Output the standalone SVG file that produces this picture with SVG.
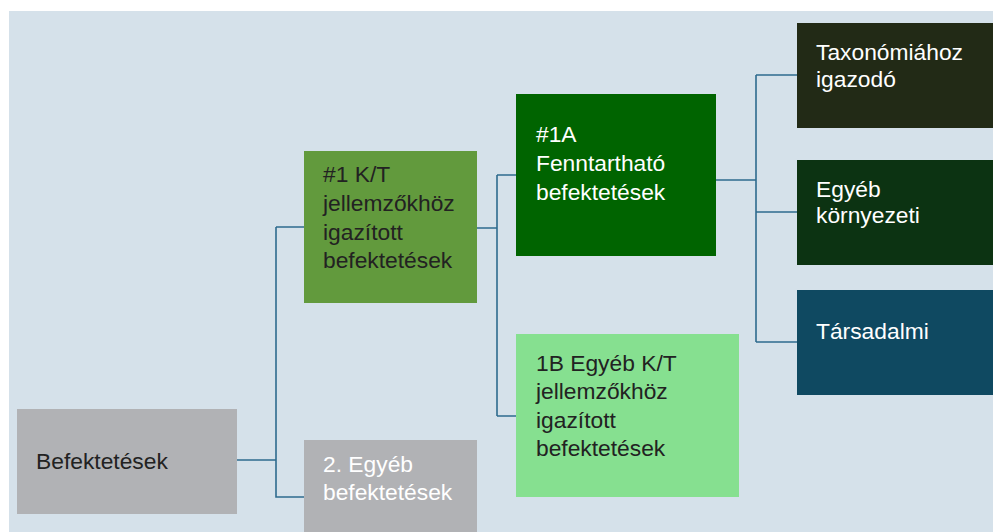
<svg xmlns="http://www.w3.org/2000/svg" width="993" height="532" viewBox="0 0 993 532">
<style>
text{font-family:"Liberation Sans",Arial,sans-serif;font-size:22.8px}
.w{fill:#ffffff}.d{fill:#222222}
.c{fill:none;stroke:#2e6b8e;stroke-width:1.6}
</style>
<rect x="0" y="0" width="993" height="532" fill="#ffffff"/>
<rect x="9" y="11" width="984" height="521" fill="#d5e1ea"/>
<g id="connectors">
<path class="c" d="M237,460 H276 M276,227 V497 H304 M276,227 H304"/>
<path class="c" d="M477,228 H497 M497,175 V416 M497,175 H516 M497,416 H516"/>
<path class="c" d="M716,180 H756 M756,75 V342 M756,75 H797 M756,212 H797 M756,342 H797"/>
</g>
<g id="n-befektetesek">
<rect x="17" y="409" width="220" height="105" fill="#b1b2b5"/>
<text class="d" x="36" y="469">Befektetések</text>
</g>
<g id="n-egyeb">
<rect x="304" y="440" width="173" height="92" fill="#b1b2b5"/>
<text class="w" x="323" y="472">2. Egyéb</text>
<text class="w" x="323" y="500">befektetések</text>
</g>
<g id="n-1kt">
<rect x="304" y="151" width="173" height="152" fill="#629a3d"/>
<text class="d" x="323" y="182">#1 K/T</text>
<text class="d" x="323" y="211">jellemzőkhöz</text>
<text class="d" x="323" y="240">igazított</text>
<text class="d" x="323" y="268">befektetések</text>
</g>
<g id="n-1a">
<rect x="516" y="94" width="200" height="162" fill="#006400"/>
<text class="w" x="536" y="142">#1A</text>
<text class="w" x="536" y="171">Fenntartható</text>
<text class="w" x="536" y="200">befektetések</text>
</g>
<g id="n-1b">
<rect x="516" y="334" width="223" height="163" fill="#86e090"/>
<text class="d" x="536" y="371">1B Egyéb K/T</text>
<text class="d" x="536" y="399">jellemzőkhöz</text>
<text class="d" x="536" y="428">igazított</text>
<text class="d" x="536" y="456">befektetések</text>
</g>
<g id="n-taxonomia">
<rect x="797" y="23" width="196" height="105" fill="#222a16"/>
<text class="w" x="816" y="60">Taxonómiához</text>
<text class="w" x="816" y="87">igazodó</text>
</g>
<g id="n-kornyezeti">
<rect x="797" y="160" width="196" height="105" fill="#0c3312"/>
<text class="w" x="816" y="197">Egyéb</text>
<text class="w" x="816" y="223">környezeti</text>
</g>
<g id="n-tarsadalmi">
<rect x="797" y="290" width="196" height="105" fill="#0f4961"/>
<text class="w" x="816" y="339">Társadalmi</text>
</g>
</svg>
